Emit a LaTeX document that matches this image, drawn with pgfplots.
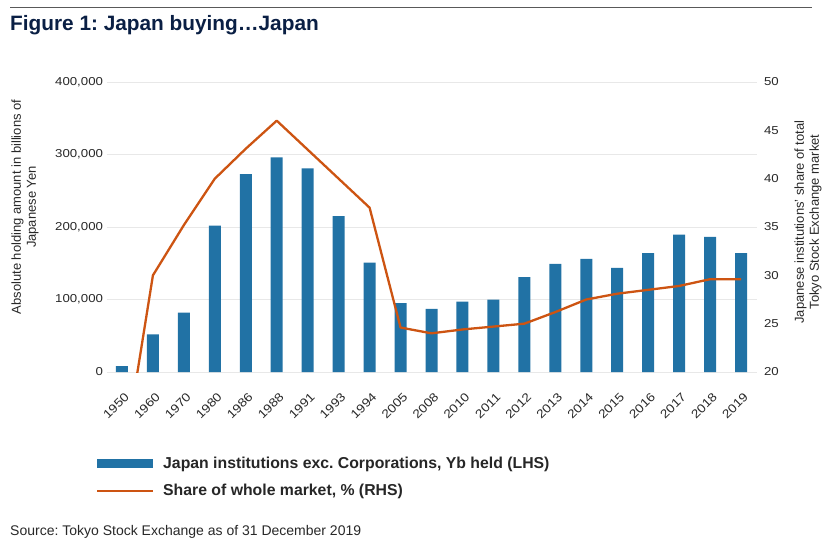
\documentclass[border=0pt]{standalone}
\usepackage{fontspec}
\setmainfont{Liberation Sans}
\newfontfamily\tickfont[FakeStretch=1.15]{Liberation Sans}
\usepackage{pgfplots}
\usepackage{pgfplotstable}
\pgfplotsset{compat=1.18}
\frenchspacing
\definecolor{barblue}{RGB}{33,114,165}
\definecolor{lineorange}{RGB}{205,84,18}
\definecolor{titlenavy}{RGB}{10,31,68}
\definecolor{gridgray}{RGB}{232,232,232}
\definecolor{txtgray}{RGB}{40,40,40}

\pgfplotstableread{
x year amount share
0 1950 8000 10
1 1960 52000 30
2 1970 82000 35.2
3 1980 202000 40
4 1986 273000 43.1
5 1988 296000 46
6 1991 281000 43
7 1993 215000 40
8 1994 151000 37
9 2005 95000 24.6
10 2008 87000 24.0
11 2010 97000 24.4
12 2011 100000 24.7
13 2012 131000 25.0
14 2013 149000 26.2
15 2014 156000 27.5
16 2015 143500 28.1
17 2016 164000 28.5
18 2017 189500 28.9
19 2018 186500 29.6
20 2019 164000 29.6
}\data

\begin{document}
\begin{tikzpicture}
\begin{scope}[x=1pt,y=1pt]
\useasboundingbox (0,0) rectangle (833,-539);
\draw[color=black!65, line width=1pt] (10,-7) -- (812,-7);
\node[anchor=base west, inner sep=0, font=\fontsize{20.8}{24}\selectfont\bfseries, text=titlenavy] at (10,-30) {Figure 1: Japan buying…Japan};
\end{scope}

\begin{axis}[
  at={(106.5pt,-372pt)}, anchor=south west,
  scale only axis, width=650pt, height=290pt,
  xmin=-0.5, xmax=20.5, ymin=0, ymax=400000,
  axis line style={draw=none},
  major tick length=0pt,
  ymajorgrids, grid style={gridgray, line width=0.9pt},
  scaled y ticks=false,
  ytick={0,100000,200000,300000,400000},
  yticklabels={0,{100,000},{200,000},{300,000},{400,000}},
  yticklabel style={font=\tickfont\fontsize{11.5}{12}\selectfont, text=txtgray},
  xtick={0,...,20},
  xticklabels from table={\data}{year},
  xticklabel style={font=\tickfont\fontsize{12}{12}\selectfont, text=txtgray, xshift=5pt, yshift=-23pt, rotate=45, anchor=east, inner sep=0pt},
  ybar, bar width=12pt,
]
\addplot[fill=barblue, draw=none] table[x=x,y=amount]{\data};
\end{axis}

\begin{axis}[
  at={(106.5pt,-372pt)}, anchor=south west,
  scale only axis, width=650pt, height=290pt,
  xmin=-0.5, xmax=20.5, ymin=20, ymax=50,
  axis y line*=right, axis line style={draw=none},
  hide x axis,
  major tick length=0pt,
  ytick={20,25,30,35,40,45,50},
  yticklabels={20,25,30,35,40,45,50},
  yticklabel style={font=\tickfont\fontsize{11.5}{12}\selectfont, text=txtgray, xshift=4pt},
]
\addplot[lineorange, line width=2.3pt, line join=round] table[x=x,y=share]{\data};
\end{axis}

\begin{scope}[x=1pt,y=1pt]
\node[rotate=90, align=center, inner sep=0, font=\fontsize{13}{15}\selectfont, text=txtgray] at (25,-207) {Absolute holding amount in billions of\\Japanese Yen};
\node[rotate=90, align=center, inner sep=0, font=\fontsize{13}{15}\selectfont, text=txtgray] at (808,-222) {Japanese institutions’ share of total\\Tokyo Stock Exchange market};

\fill[barblue] (97,-459) rectangle (153,-468);
\draw[lineorange, line width=2.6pt] (97,-491) -- (153,-491);
\node[anchor=west, inner sep=0, font=\fontsize{15.8}{18}\selectfont\bfseries, text=black!85] at (163,-464) {Japan institutions exc. Corporations, Yb held (LHS)};
\node[anchor=west, inner sep=0, font=\fontsize{15.8}{18}\selectfont\bfseries, text=black!85] at (163,-491) {Share of whole market, \% (RHS)};

\node[anchor=base west, inner sep=0, font=\fontsize{14}{16}\selectfont, text=txtgray] at (10,-535) {Source: Tokyo Stock Exchange as of 31 December 2019};
\end{scope}
\end{tikzpicture}
\end{document}
